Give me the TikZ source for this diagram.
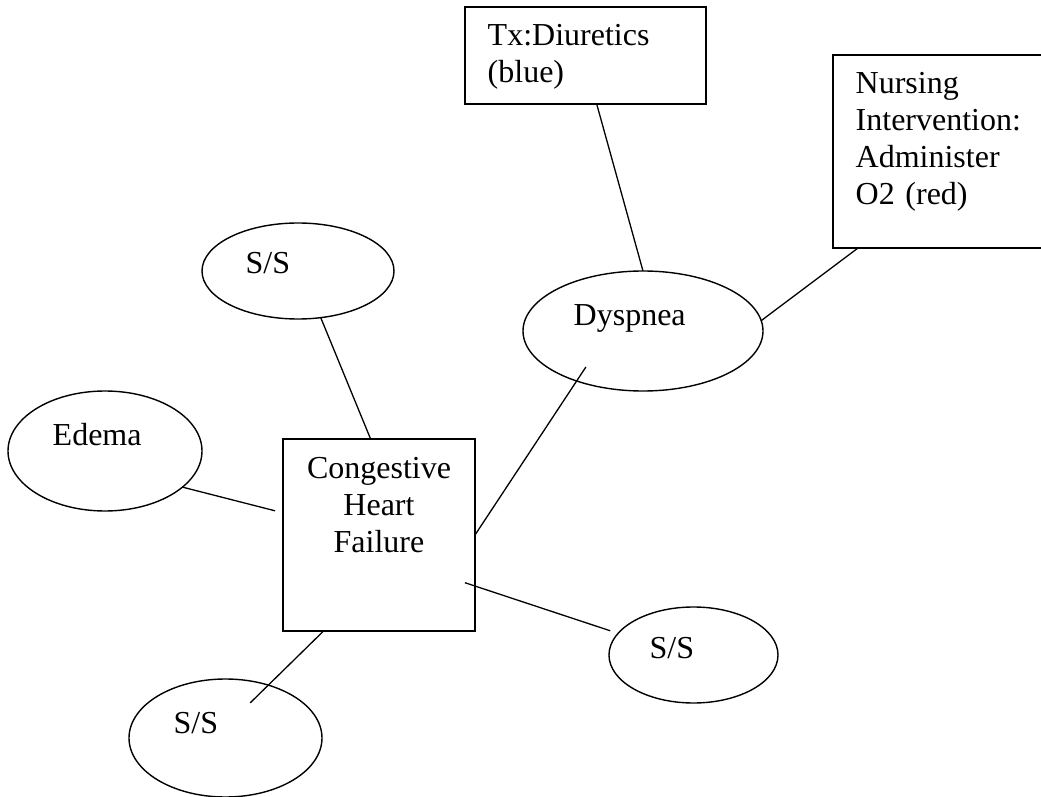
\documentclass[tikz,border=0pt]{standalone}
\usepackage{fontspec}
\setmainfont{Liberation Serif}
\usetikzlibrary{shapes.geometric}

\begin{document}
\begin{tikzpicture}[x=0.5pt, y=-0.5pt, line width=0.7pt,
    box/.style={draw, rectangle, inner sep=0pt, outer sep=0pt},
    oval/.style={draw, ellipse, inner sep=0pt, outer sep=0pt},
    txt/.style={inner sep=0pt, anchor=base west, font=\fontsize{16pt}{18.5pt}\selectfont},
    link/.style={line width=0.65pt}]
    \useasboundingbox (0,0) rectangle (1041,797);
%boxes
    \node[box, minimum width=120.5pt, minimum height=48.5pt] (tx) at (585.5,55.5) {};
    \node[box, minimum width=106pt, minimum height=96.5pt] (nurs) at (939,151.5) {};
    \node[box, minimum width=96pt, minimum height=96pt] (chf) at (379,535) {};
%ovals
    \node[oval, minimum width=96pt, minimum height=48pt] (ssone) at (298,271) {};
    \node[oval, minimum width=120pt, minimum height=60pt] (dysp) at (643,331) {};
    \node[oval, minimum width=97pt, minimum height=60pt] (edema) at (105,451) {};
    \node[oval, minimum width=84.5pt, minimum height=48pt] (sstwo) at (693.5,655) {};
    \node[oval, minimum width=96.5pt, minimum height=59pt] (ssthree) at (225.5,738) {};
%texts
    \node[txt, text width=100pt, align=left] (txtxt) at (487,46) {Tx:Diuretics\\(blue)};
    \node[txt, text width=100pt, align=left] (nurstxt) at (855,94) {Nursing\\Intervention:\\Administer\\O2 (red)};
    \node[txt, text width=100pt, align=center, anchor=base] (chftxt) at (379,479) {Congestive\\Heart\\Failure};
    \node[txt] (ssonetxt) at (245,274) {S/S};
    \node[txt] (dysptxt) at (573,326) {Dyspnea};
    \node[txt] (edematxt) at (52,445) {Edema};
    \node[txt] (sstwotxt) at (649,658) {S/S};
    \node[txt] (ssthreetxt) at (173,733) {S/S};
%links
    \draw[link] (tx.-77.5) -- (dysp.north);
    \draw[link] (nurs.230.3) -- (dysp.5.7);
    \draw[link] (ssone.-64.4) -- (chf.95.9);
    \draw[link, shorten >=4.1pt] (edema.-25.6) -- (chf.167.1);
    \draw[link, shorten <=-8.4pt] (dysp.217) -- (chf.east);
    \draw[link, shorten <=-5.3pt, shorten >=4.1pt] (chf.-28.1) -- (sstwo.164.2);
    \draw[link, shorten >=-12.7pt] (chf.-120.7) -- (ssthree.51.3);
\end{tikzpicture}
\end{document}
